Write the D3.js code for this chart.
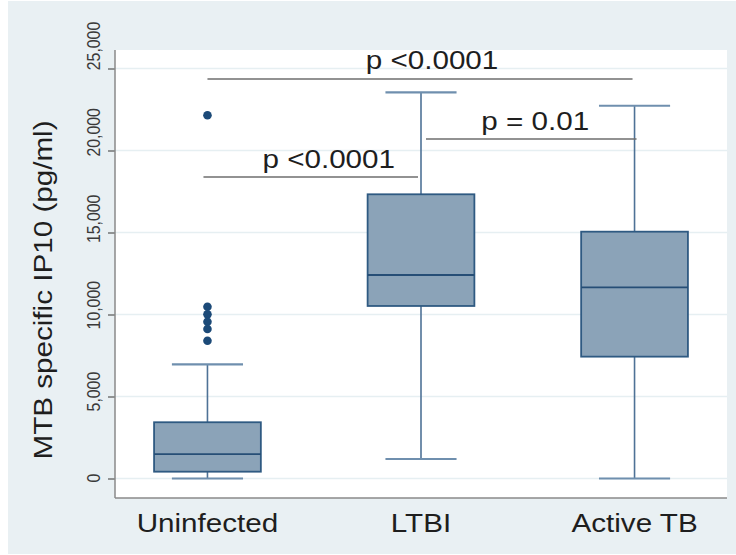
<!DOCTYPE html>
<html>
<head>
<meta charset="utf-8">
<script src="https://cdn.jsdelivr.net/npm/d3@7"></script>
<style>
  body { margin: 0; background: #ffffff; }
  text { font-family: "Liberation Sans", Arial, Helvetica, sans-serif; }
</style>
</head>
<body>
<div id="vis"></div>
<script>
// box plot data
const groups = ["Uninfected", "LTBI", "Active TB"];
const whiskerLow = [0, 1190, 0];
const q1 = [415, 10520, 7430];
const median = [1490, 12410, 11660];
const q3 = [3430, 17330, 15050];
const whiskerHigh = [6960, 23540, 22730];

const outlierGroup = ["Uninfected", "Uninfected", "Uninfected", "Uninfected", "Uninfected", "Uninfected"];
const outlierValue = [22150, 10475, 10010, 9560, 9115, 8400];

const yTicks = [0, 5000, 10000, 15000, 20000, 25000];

// significance brackets
const sigFrom = ["Uninfected", "LTBI", "Uninfected"];
const sigTo = ["Active TB", "Active TB", "LTBI"];
const sigLevel = [24360, 20700, 18380];
const sigLabel = ["p <0.0001", "p = 0.01", "p <0.0001"];

const WIDTH = 736;
const HEIGHT = 555;
const PLOT = {left: 115, right: 727, top: 50, bottom: 498};
const STRETCH = 1.14; // the big text is a bit wider than Arial

const svg = d3.select("#vis")
  .append("svg")
    .attr("width", WIDTH)
    .attr("height", HEIGHT);

// outer grey-blue background
svg.append("rect")
    .attr("x", 8).attr("y", 1)
    .attr("width", WIDTH - 8).attr("height", HEIGHT - 2)
    .attr("fill", "#e9f0f3");

// white plot region
svg.append("rect")
    .attr("x", PLOT.left).attr("y", PLOT.top)
    .attr("width", PLOT.right - PLOT.left)
    .attr("height", PLOT.bottom - PLOT.top)
    .attr("fill", "#ffffff");

const Y = d3.scaleLinear()
  .domain([0, 25000])
  .range([478.5, 68.5]);

// the tick labels drift upward from their ticks in the original,
// so they get their own (slightly longer) scale
const Y_LABEL = d3.scaleLinear()
  .domain([0, 25000])
  .range([478, 46]);

const X = d3.scalePoint()
  .domain(groups)
  .range([PLOT.left, PLOT.right])
  .padding(0.433);

const step = X.step();
const boxW = step * 0.5;
const capW = step * 0.333;

// faint gridlines
svg.append("g")
  .selectAll("line")
  .data(yTicks)
  .enter()
  .append("line")
    .attr("x1", PLOT.left).attr("x2", PLOT.right)
    .attr("y1", (d) => Y(d)).attr("y2", (d) => Y(d))
    .attr("stroke", "#e6eff2")
    .attr("stroke-width", 1.5);

// y axis ticks
const yAxis = svg.append("g")
  .attr("transform", "translate(" + PLOT.left + ",0)")
  .call(d3.axisLeft(Y).tickValues(yTicks).tickSize(7).tickFormat(""));

yAxis.select(".domain").remove();
yAxis.selectAll(".tick line").attr("stroke", "#555").attr("stroke-width", 1.2);

// rotated tick labels
const fmt = d3.format(",");
svg.append("g")
  .selectAll("text")
  .data(yTicks)
  .enter()
  .append("text")
    .attr("transform", (d) => "translate(100," + Y_LABEL(d) + ") rotate(-90) scale(0.88,1)")
    .attr("text-anchor", "middle")
    .attr("font-size", 18)
    .attr("fill", "#3a3a3a")
    .text((d) => fmt(d));

// axis lines
svg.append("line")
    .attr("x1", PLOT.left).attr("x2", PLOT.left)
    .attr("y1", PLOT.top).attr("y2", PLOT.bottom)
    .attr("stroke", "#8a8a8a").attr("stroke-width", 1.5);
svg.append("line")
    .attr("x1", PLOT.left).attr("x2", PLOT.right)
    .attr("y1", PLOT.bottom).attr("y2", PLOT.bottom)
    .attr("stroke", "#8a8a8a").attr("stroke-width", 1.5);

// boxes
const stats = groups.map((g, i) => ({
  g: g, lo: whiskerLow[i], q1: q1[i], med: median[i], q3: q3[i], hi: whiskerHigh[i]
}));

const boxes = svg.append("g")
  .selectAll("g")
  .data(stats)
  .enter()
  .append("g");

const whiskerColor = "#4e7296";

boxes.append("line") // upper whisker
    .attr("x1", (d) => X(d.g)).attr("x2", (d) => X(d.g))
    .attr("y1", (d) => Y(d.q3)).attr("y2", (d) => Y(d.hi))
    .attr("stroke", whiskerColor).attr("stroke-width", 1.6);
boxes.append("line") // lower whisker
    .attr("x1", (d) => X(d.g)).attr("x2", (d) => X(d.g))
    .attr("y1", (d) => Y(d.q1)).attr("y2", (d) => Y(d.lo))
    .attr("stroke", whiskerColor).attr("stroke-width", 1.6);
boxes.append("line") // upper cap
    .attr("x1", (d) => X(d.g) - capW / 2).attr("x2", (d) => X(d.g) + capW / 2)
    .attr("y1", (d) => Y(d.hi)).attr("y2", (d) => Y(d.hi))
    .attr("stroke", "#6f8fae").attr("stroke-width", 2.2);
boxes.append("line") // lower cap
    .attr("x1", (d) => X(d.g) - capW / 2).attr("x2", (d) => X(d.g) + capW / 2)
    .attr("y1", (d) => Y(d.lo)).attr("y2", (d) => Y(d.lo))
    .attr("stroke", "#6f8fae").attr("stroke-width", 2.2);

boxes.append("rect")
    .attr("x", (d) => X(d.g) - boxW / 2)
    .attr("y", (d) => Y(d.q3))
    .attr("width", boxW)
    .attr("height", (d) => Y(d.q1) - Y(d.q3))
    .attr("fill", "#8ba3b8")
    .attr("stroke", "#2f5a82")
    .attr("stroke-width", 1.8);

boxes.append("line") // median
    .attr("x1", (d) => X(d.g) - boxW / 2).attr("x2", (d) => X(d.g) + boxW / 2)
    .attr("y1", (d) => Y(d.med)).attr("y2", (d) => Y(d.med))
    .attr("stroke", "#264e76").attr("stroke-width", 1.8);

// outliers
svg.append("g")
  .selectAll("circle")
  .data(outlierValue)
  .enter()
  .append("circle")
    .attr("cx", (d, i) => X(outlierGroup[i]))
    .attr("cy", (d) => Y(d))
    .attr("r", 4.3)
    .attr("fill", "#1c4a78");

// significance brackets; small nudges so ends sit like the original
const bracketNudge = [[0, -2], [5, 2], [-4, -3]];
const labelNudge = [12, 4, 18];

const sig = sigLevel.map((v, i) => ({
  x1: X(sigFrom[i]) + bracketNudge[i][0],
  x2: X(sigTo[i]) + bracketNudge[i][1],
  y: Y(v),
  label: sigLabel[i],
  dx: labelNudge[i]
}));

svg.append("g")
  .selectAll("line")
  .data(sig)
  .enter()
  .append("line")
    .attr("x1", (d) => d.x1).attr("x2", (d) => d.x2)
    .attr("y1", (d) => d.y).attr("y2", (d) => d.y)
    .attr("stroke", "#6e6e6e").attr("stroke-width", 1.5);

svg.append("g")
  .selectAll("text")
  .data(sig)
  .enter()
  .append("text")
    .attr("transform", (d) => "translate(" + ((d.x1 + d.x2) / 2 + d.dx) + "," + (d.y - 9.5) + ") scale(" + STRETCH + ",1)")
    .attr("text-anchor", "middle")
    .attr("font-size", 26)
    .attr("fill", "#1e1e1e")
    .text((d) => d.label);

// category labels
svg.append("g")
  .selectAll("text")
  .data(groups)
  .enter()
  .append("text")
    .attr("transform", (d) => "translate(" + X(d) + ",532) scale(" + STRETCH + ",1)")
    .attr("text-anchor", "middle")
    .attr("font-size", 26)
    .attr("fill", "#1e1e1e")
    .text((d) => d);

// y axis title
svg.append("text")
    .attr("transform", "translate(52,290) rotate(-90) scale(" + STRETCH + ",1)")
    .attr("text-anchor", "middle")
    .attr("font-size", 26)
    .attr("fill", "#1e1e1e")
    .text("MTB specific IP10 (pg/ml)");
</script>
</body>
</html>
